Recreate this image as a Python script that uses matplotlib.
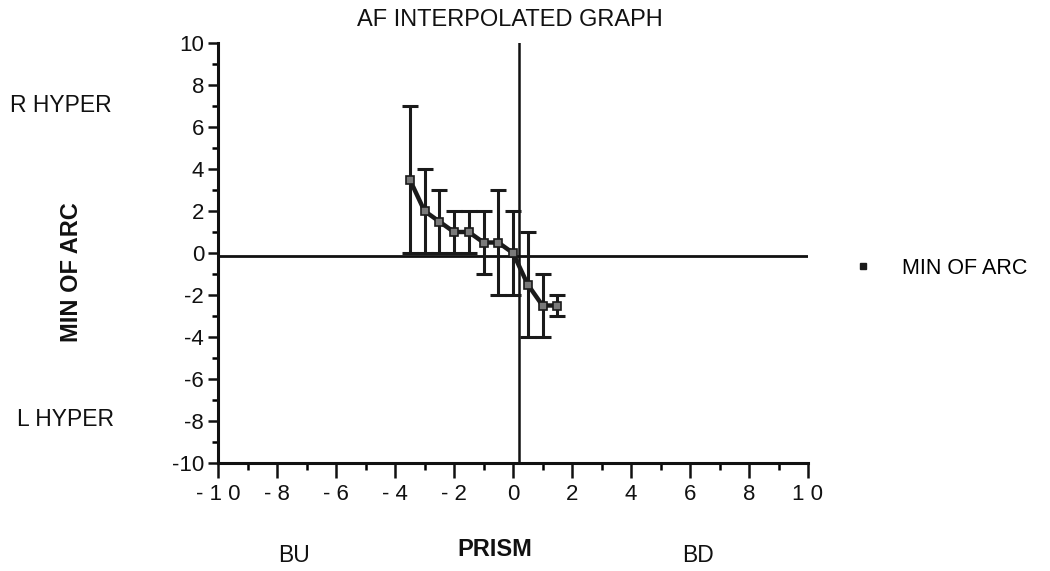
import matplotlib
matplotlib.use('Agg')
import matplotlib.pyplot as plt
from matplotlib.lines import Line2D
from matplotlib.ticker import MultipleLocator

plt.rcParams['font.family'] = ['Liberation Sans', 'DejaVu Sans']
plt.rcParams['axes.unicode_minus'] = False

# prism (x) vs min of arc (y), symmetric error bars
prism = [-3.5, -3.0, -2.5, -2.0, -1.5, -1.0, -0.5, 0.0, 0.5, 1.0, 1.5]
min_arc = [3.5, 2.0, 1.5, 1.0, 1.0, 0.5, 0.5, 0.0, -1.5, -2.5, -2.5]
err = [3.5, 2.0, 1.5, 1.0, 1.0, 1.5, 2.5, 2.0, 2.5, 1.5, 0.5]

xticks = [-10, -8, -6, -4, -2, 0, 2, 4, 6, 8, 10]
xtick_labels = ['- 1 0', '- 8', '- 6', '- 4', '- 2', '0', '2', '4', '6', '8', '1 0']
yticks = [-10, -8, -6, -4, -2, 0, 2, 4, 6, 8, 10]

fig = plt.figure(figsize=(10.5, 5.71), dpi=100)
ax = fig.add_axes([218 / 1050, 1 - 463 / 571, 590 / 1050, 420 / 571])

ax.axhline(-0.15, color='#111111', lw=2.0, zorder=1)
ax.axvline(0.2, color='#111111', lw=1.8, zorder=1)

ax.errorbar(prism, min_arc, yerr=err, fmt='none', ecolor='#1a1a1a',
            elinewidth=2.2, capsize=5.5, capthick=2.2, zorder=2)
ax.plot(prism, min_arc, color='#1a1a1a', lw=3.2, marker='s', markersize=6,
        markerfacecolor='#7a7a7a', markeredgecolor='#1a1a1a', markeredgewidth=1.2, zorder=3)

ax.set_xlim(-10, 10)
ax.set_ylim(-10, 10)
ax.set_xticks(xticks)
ax.set_xticklabels(xtick_labels)
ax.set_yticks(yticks)
ax.xaxis.set_minor_locator(MultipleLocator(1))
ax.yaxis.set_minor_locator(MultipleLocator(1))

for s in ['top', 'right']:
    ax.spines[s].set_visible(False)
for s in ['left', 'bottom']:
    ax.spines[s].set_linewidth(2.2)
    ax.spines[s].set_color('#111111')

ax.tick_params(axis='x', which='major', direction='out', length=11, width=1.8,
               labelsize=16, pad=4, colors='#111111')
ax.tick_params(axis='x', which='minor', direction='out', length=5, width=1.8)
ax.tick_params(axis='y', which='major', direction='out', length=7, width=1.8,
               labelsize=16, pad=3, colors='#111111')
ax.tick_params(axis='y', which='minor', direction='out', length=4, width=1.8)

fig.text(510 / 1050, 1 - 20 / 571, 'AF INTERPOLATED GRAPH', ha='center', va='center',
         fontsize=17, color='#111111')
fig.text(71 / 1050, 1 - 272 / 571, 'MIN OF ARC', rotation=90, ha='center', va='center',
         fontsize=17, fontweight='bold', color='#111111')
fig.text(10 / 1050, 1 - 106 / 571, 'R HYPER', ha='left', va='center', fontsize=16.5, color='#111111')
fig.text(17 / 1050, 1 - 420 / 571, 'L HYPER', ha='left', va='center', fontsize=16.5, color='#111111')
fig.text(495 / 1050, 1 - 550 / 571, 'PRISM', ha='center', va='center',
         fontsize=17, fontweight='bold', color='#111111')
fig.text(294 / 1050, 1 - 555 / 571, 'BU', ha='center', va='center', fontsize=16.5, color='#111111')
fig.text(698 / 1050, 1 - 555 / 571, 'BD', ha='center', va='center', fontsize=16.5, color='#111111')

handle = Line2D([], [], linestyle='none', marker='s', markersize=5,
                markerfacecolor='#1a1a1a', markeredgecolor='#1a1a1a')
fig.legend([handle], ['MIN OF ARC'], loc='center left',
           bbox_to_anchor=(833 / 1050, 1 - 268 / 571), frameon=False,
           fontsize=15.5, handlelength=1.0, handletextpad=1.3)

fig.savefig('out.png', dpi=100)
